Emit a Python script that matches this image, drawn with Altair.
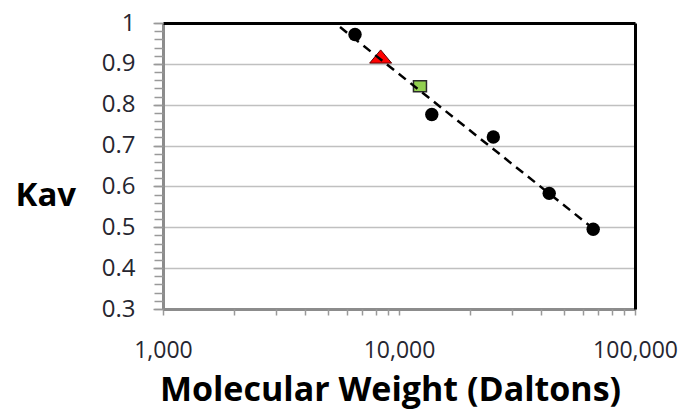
import altair as alt
import pandas as pd

# ---- data ----
circle_mw = [6510, 13770, 25100, 43300, 66500]
circle_kav = [0.972, 0.776, 0.721, 0.583, 0.495]
triangle_mw = [8360]
triangle_kav = [0.918]
square_mw = [12270]
square_kav = [0.845]
fit_mw = [5625, 66500]
fit_kav = [0.990, 0.497]

x_major = [1000, 10000, 100000]
x_minor = [2000, 3000, 4000, 5000, 6000, 7000, 8000, 9000,
           20000, 30000, 40000, 50000, 60000, 70000, 80000, 90000]
y_major = [0.3, 0.4, 0.5, 0.6, 0.7, 0.8, 0.9, 1.0]
y_minor = [0.3, 0.32, 0.34, 0.36, 0.38, 0.4, 0.42, 0.44, 0.46, 0.48,
           0.5, 0.52, 0.54, 0.56, 0.58, 0.6, 0.62, 0.64, 0.66, 0.68,
           0.7, 0.72, 0.74, 0.76, 0.78, 0.8, 0.82, 0.84, 0.86, 0.88,
           0.9, 0.92, 0.94, 0.96, 0.98, 1.0]

FONT = "Open Sans"
LABEL_COLOR = "#262630"

circles = pd.DataFrame({"mw": circle_mw, "kav": circle_kav})
tri = pd.DataFrame({"mw": triangle_mw, "kav": triangle_kav})
sq = pd.DataFrame({"mw": square_mw, "kav": square_kav})
fit = pd.DataFrame({"mw": fit_mw, "kav": fit_kav})

xscale = alt.Scale(type="log", domain=[1000, 100000], nice=False)
yscale = alt.Scale(domain=[0.3, 1.0], nice=False, zero=False)

x_main_axis = alt.Axis(
    values=x_major, format=",", labelFont=FONT, labelFontSize=23,
    labelColor=LABEL_COLOR, labelPadding=24, labelFlush=False,
    labelOverlap=False, tickSize=6, tickColor="#999999",
    tickWidth=1.5, domainColor="#8c8c8c", domainWidth=3, grid=False,
    title="Molecular Weight (Daltons)", titleFont=FONT, titleFontSize=34,
    titleFontWeight="bold", titleColor="black", titleX=227, titleY=91,
    titleAlign="center", titleBaseline="alphabetic", zindex=1,
)
y_main_axis = alt.Axis(
    values=y_major, format=".1~f", labelFont=FONT, labelFontSize=24,
    labelColor=LABEL_COLOR, labelPadding=18, labelFlush=False,
    labelOverlap=False, tickSize=10, tickColor="#999999",
    tickWidth=1.5, domainColor="#8c8c8c", domainWidth=3, grid=True,
    gridColor="#c0c0c0", gridWidth=1.5, title="Kav", titleFont=FONT,
    titleFontSize=33, titleFontWeight="bold", titleColor="black",
    titleAngle=0, titleX=-148, titleY=182, titleAlign="left",
    titleBaseline="alphabetic", zindex=0,
)

base_circles = alt.Chart(circles).mark_point(
    shape="circle", filled=True, size=180, color="black", opacity=1
).encode(
    x=alt.X("mw:Q", scale=xscale, axis=x_main_axis),
    y=alt.Y("kav:Q", scale=yscale, axis=y_main_axis),
)

triangle = alt.Chart(tri).mark_point(
    shape="M-1,0.6L1,0.6L0,-0.6Z", filled=True, size=484, fill="#ff0000",
    stroke="#5a0000", strokeWidth=1, opacity=1
).encode(
    x=alt.X("mw:Q", scale=xscale, axis=None),
    y=alt.Y("kav:Q", scale=yscale, axis=None),
)

square = alt.Chart(sq).mark_point(
    shape="M-1,-0.85L1,-0.85L1,0.85L-1,0.85Z", filled=True, size=169,
    fill="#92d050", stroke="#2a2a2a", strokeWidth=1.5, opacity=1
).encode(
    x=alt.X("mw:Q", scale=xscale, axis=None),
    y=alt.Y("kav:Q", scale=yscale, axis=None),
)

line = alt.Chart(fit).mark_line(
    color="black", strokeWidth=2.5, strokeDash=[9, 6]
).encode(
    x=alt.X("mw:Q", scale=xscale, axis=None),
    y=alt.Y("kav:Q", scale=yscale, axis=None),
)

minor = alt.Chart(circles).mark_point(opacity=0).encode(
    x=alt.X("mw:Q", scale=xscale, axis=alt.Axis(
        values=x_minor, labels=False, domain=False, grid=False, tickSize=6,
        tickColor="#999999", tickWidth=1.5, title=None, orient="bottom", zindex=1)),
    y=alt.Y("kav:Q", scale=yscale, axis=alt.Axis(
        values=y_minor, labels=False, domain=False, grid=False, tickSize=9,
        tickColor="#999999", tickWidth=1.5, title=None, orient="left", zindex=1)),
)

border = alt.Chart(circles).mark_point(opacity=0).encode(
    x=alt.X("mw:Q", scale=xscale, axis=alt.Axis(
        orient="top", labels=False, ticks=False, grid=False, domain=True,
        domainColor="black", domainWidth=3, title=None, zindex=1)),
    y=alt.Y("kav:Q", scale=yscale, axis=alt.Axis(
        orient="right", labels=False, ticks=False, grid=False, domain=True,
        domainColor="black", domainWidth=3, title=None, zindex=1)),
)

chart = alt.layer(
    base_circles, triangle, square, line, minor, border
).resolve_axis(
    x="independent", y="independent"
).properties(
    width=472, height=286, autosize="none",
    padding={"left": 155, "top": 15, "right": 44, "bottom": 100},
    background="white",
).configure_view(strokeOpacity=0)

chart.save("out.html", embed_options={"renderer": "svg", "actions": False})
